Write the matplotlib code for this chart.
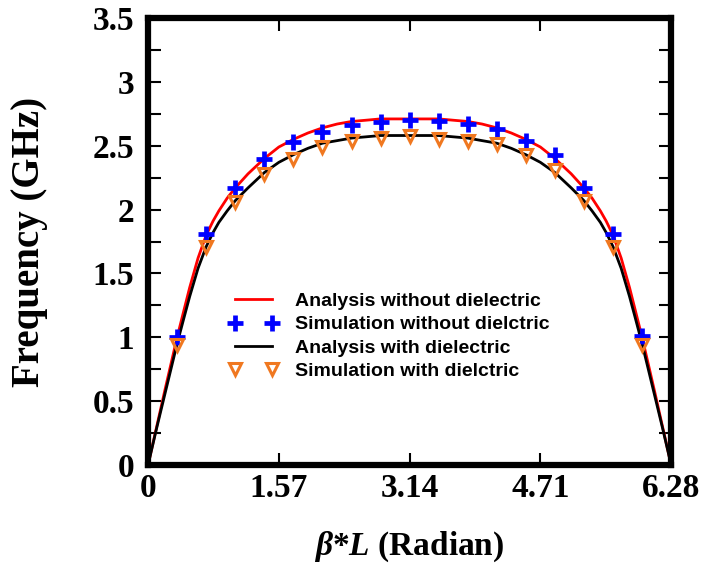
import matplotlib
matplotlib.use("Agg")
import matplotlib.pyplot as plt
from matplotlib.ticker import MultipleLocator

# analysis curves
x_ana = [0, 0.1, 0.2, 0.349, 0.43, 0.5, 0.6, 0.698, 0.78, 0.85, 0.95, 1.047, 1.2, 1.396,
         1.57, 1.745, 1.92, 2.094, 2.27, 2.443, 2.62, 2.79, 2.97, 3.14,
         3.31, 3.49, 3.66, 3.837, 4.01, 4.186, 4.36, 4.535, 4.71, 4.884, 5.08, 5.233,
         5.33, 5.43, 5.50, 5.582, 5.68, 5.78, 5.85, 5.931, 6.08, 6.18, 6.28]
f_ana_air = [0, 0.29, 0.58, 1.00, 1.21, 1.39, 1.62, 1.80, 1.91, 1.99, 2.09, 2.17, 2.28, 2.40,
             2.49, 2.55, 2.60, 2.64, 2.67, 2.69, 2.70, 2.71, 2.71, 2.71,
             2.71, 2.71, 2.70, 2.69, 2.67, 2.64, 2.60, 2.55, 2.49, 2.40, 2.28, 2.17,
             2.09, 1.99, 1.91, 1.80, 1.62, 1.39, 1.21, 1.00, 0.58, 0.29, 0]
f_ana_diel = [0, 0.28, 0.55, 0.95, 1.15, 1.32, 1.54, 1.71, 1.82, 1.90, 1.99, 2.07, 2.17, 2.29,
              2.37, 2.43, 2.48, 2.52, 2.54, 2.56, 2.57, 2.58, 2.58, 2.58,
              2.58, 2.58, 2.57, 2.56, 2.54, 2.52, 2.48, 2.43, 2.37, 2.29, 2.17, 2.07,
              1.99, 1.90, 1.82, 1.71, 1.54, 1.32, 1.15, 0.95, 0.55, 0.28, 0]

# simulation points
x_sim = [0.349, 0.698, 1.047, 1.396, 1.745, 2.094, 2.443, 2.793, 3.142, 3.491, 3.840,
         4.189, 4.538, 4.887, 5.236, 5.585, 5.934]
f_sim_air = [1.00, 1.81, 2.17, 2.40, 2.53, 2.61, 2.66, 2.685, 2.70, 2.69, 2.67,
             2.63, 2.535, 2.43, 2.17, 1.81, 1.01]
f_sim_diel = [0.94, 1.71, 2.06, 2.28, 2.40, 2.49, 2.54, 2.56, 2.575, 2.555, 2.535,
              2.51, 2.43, 2.31, 2.07, 1.71, 0.94]

xticks = [0, 1.57, 3.14, 4.71, 6.28]
xtick_labels = ['0', '1.57', '3.14', '4.71', '6.28']
yticks = [0, 0.5, 1, 1.5, 2, 2.5, 3, 3.5]
ytick_labels = ['0', '0.5', '1', '1.5', '2', '2.5', '3', '3.5']

plt.rcParams['mathtext.fontset'] = 'custom'
plt.rcParams['mathtext.rm'] = 'Liberation Serif:bold'
plt.rcParams['mathtext.it'] = 'Liberation Serif:italic:bold'

fig = plt.figure(figsize=(7.05, 5.63), dpi=100)
ax = fig.add_axes([0.21, 0.174, 0.742, 0.794])

ax.plot(x_ana, f_ana_air, color='red', lw=2.0, label='Analysis without dielectric', zorder=2)
ax.plot(x_sim, f_sim_air, ls='none', marker='+', ms=12, mew=3.4, color='#0000ff',
        label='Simulation without dielctric', zorder=4)
ax.plot(x_ana, f_ana_diel, color='black', lw=2.0, label='Analysis with dielectric', zorder=3)
ax.plot(x_sim, f_sim_diel, ls='none', marker='v', ms=9, mew=2.2, mfc='none',
        mec='#f07820', label='Simulation with dielctric', zorder=5)

ax.set_xlim(0, 6.28)
ax.set_ylim(0, 3.5)
ax.set_xticks(xticks)
ax.set_xticklabels(xtick_labels)
ax.set_yticks(yticks)
ax.set_yticklabels(ytick_labels)
ax.yaxis.set_minor_locator(MultipleLocator(0.25))

ax.tick_params(which='both', direction='in', top=True, right=True, length=9, width=1.5,
               labelsize=24)
ax.tick_params(axis='x', pad=6)
ax.tick_params(axis='y', pad=10)
for lab in ax.get_xticklabels() + ax.get_yticklabels():
    lab.set_fontfamily('Liberation Serif')
    lab.set_fontweight('bold')
for sp in ax.spines.values():
    sp.set_linewidth(4.5)

ax.set_ylabel('Frequency (GHz)', fontsize=28, fontweight='bold', family='Liberation Serif',
              labelpad=32)
ax.set_xlabel(r'$\beta$*$L$ (Radian)', fontsize=24, fontweight='bold',
              family='Liberation Serif', labelpad=18)

leg = ax.legend(loc='upper left', bbox_to_anchor=(0.148, 0.395), frameon=False, numpoints=2,
                handlelength=2.5, handletextpad=0.9, labelspacing=0.3, borderaxespad=0,
                borderpad=0.2, prop={'family': 'Liberation Sans', 'weight': 'bold', 'size': 14})

fig.savefig('out.png', dpi=100)
